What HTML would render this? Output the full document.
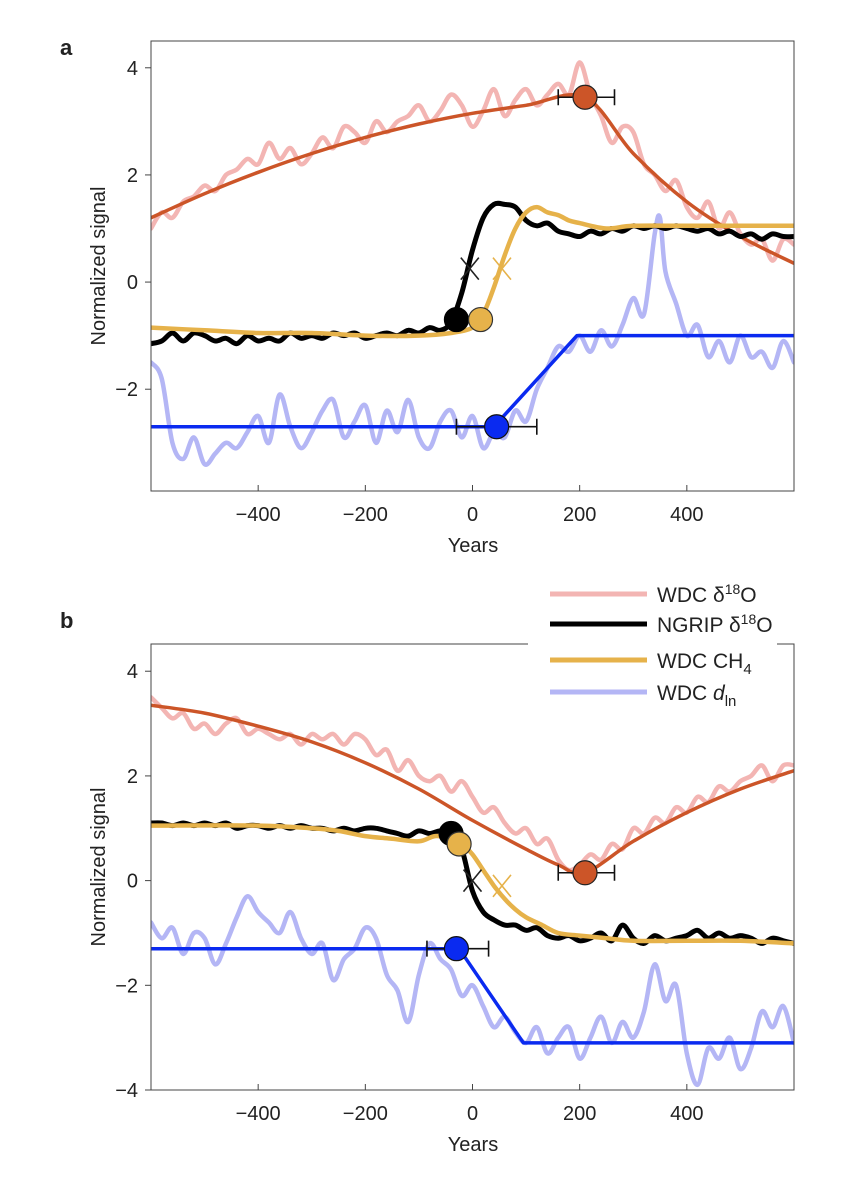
<!DOCTYPE html>
<html><head><meta charset="utf-8">
<style>
body{margin:0;background:#fff;width:852px;height:1174px;overflow:hidden;font-family:"Liberation Sans","DejaVu Sans",sans-serif;}
svg text{font-family:"Liberation Sans","DejaVu Sans",sans-serif;fill:#222;}
</style></head><body>
<svg id="chart" width="852" height="1174" viewBox="0 0 852 1174" xmlns="http://www.w3.org/2000/svg"></svg>
<script>
// ---- Panel a data ----
const aPinkYears=[-600,-580,-560,-540,-520,-500,-480,-460,-440,-420,-400,-380,-360,-340,-320,-300,-280,-260,-240,-220,-200,-180,-160,-140,-120,-100,-80,-60,-40,-20,0,20,40,60,80,100,120,140,160,180,200,220,240,260,280,300,320,340,360,380,400,420,440,460,480,500,520,540,560,580,600];
const aPinkVals=[1.0,1.3,1.2,1.5,1.6,1.8,1.7,2.0,2.1,2.3,2.2,2.6,2.3,2.5,2.2,2.4,2.7,2.5,2.9,2.8,2.6,3.0,2.8,3.0,3.1,3.3,3.0,3.2,3.5,3.3,2.9,3.2,3.6,3.1,3.4,3.6,3.3,3.5,3.7,3.5,4.1,3.5,3.1,2.6,2.9,2.8,2.2,2.0,1.7,1.9,1.4,1.2,1.5,1.0,1.3,0.9,0.7,0.8,0.4,0.8,0.7];
const aFitYears=[-600,-500,-400,-300,-200,-100,0,100,210,300,400,500,600];
const aFitVals=[1.2,1.65,2.05,2.4,2.7,2.95,3.15,3.3,3.45,2.4,1.5,0.85,0.35];
const aBlackYears=[-600,-580,-560,-540,-520,-500,-480,-460,-440,-420,-400,-380,-360,-340,-320,-300,-280,-260,-240,-220,-200,-180,-160,-140,-120,-100,-80,-60,-40,-20,0,20,40,60,80,100,120,140,160,180,200,220,240,260,280,300,320,340,360,380,400,420,440,460,480,500,520,540,560,580,600];
const aBlackVals=[-1.15,-1.1,-0.95,-1.1,-0.95,-1.0,-1.1,-1.05,-1.15,-1.0,-1.1,-1.05,-1.1,-0.95,-1.05,-1.0,-1.05,-0.95,-1.0,-0.95,-1.05,-1.0,-0.95,-1.0,-0.9,-0.95,-0.85,-0.9,-0.75,-0.2,0.6,1.2,1.45,1.45,1.4,1.15,1.05,1.1,0.95,0.9,0.85,0.95,0.9,1.0,0.95,1.05,1.0,1.05,1.0,1.05,1.0,0.95,1.0,0.9,0.95,0.85,0.9,0.8,0.9,0.85,0.85];
const aCH4Years=[-600,-500,-400,-300,-200,-100,-40,0,20,40,60,80,100,120,140,160,180,200,250,300,400,500,600];
const aCH4Vals=[-0.85,-0.9,-0.95,-0.95,-1.0,-1.0,-0.95,-0.85,-0.6,-0.1,0.5,1.0,1.3,1.4,1.3,1.25,1.15,1.1,1.0,1.05,1.05,1.05,1.05];
const aDlnYears=[-600,-580,-560,-540,-520,-500,-480,-460,-440,-420,-400,-380,-360,-340,-320,-300,-280,-260,-240,-220,-200,-180,-160,-140,-120,-100,-80,-60,-40,-20,0,20,40,60,80,100,120,140,160,180,200,220,240,260,280,300,320,340,350,360,380,400,420,440,460,480,500,520,540,560,580,600];
const aDlnVals=[-1.5,-1.8,-3.0,-3.3,-2.9,-3.4,-3.2,-3.0,-3.1,-2.8,-2.5,-3.0,-2.1,-2.7,-3.1,-2.8,-2.4,-2.2,-2.9,-2.6,-2.3,-3.0,-2.4,-2.8,-2.2,-2.9,-3.1,-2.6,-2.4,-2.9,-2.5,-3.1,-2.8,-2.9,-2.4,-2.6,-2.0,-1.6,-1.2,-1.3,-1.0,-1.3,-0.9,-1.2,-0.8,-0.3,-0.6,0.9,1.2,0.2,-0.4,-1.0,-0.8,-1.4,-1.1,-1.5,-1.0,-1.4,-1.3,-1.6,-1.1,-1.5];
const aRampYears=[-600,40,195,600];
const aRampVals=[-2.7,-2.7,-1.0,-1.0];
// ---- Panel b data ----
const bPinkYears=aPinkYears;
const bPinkVals=[3.5,3.3,3.1,3.2,2.9,3.0,2.8,3.0,3.1,2.8,2.9,2.8,2.7,2.8,2.6,2.8,2.7,2.8,2.6,2.8,2.7,2.4,2.5,2.1,2.3,2.0,1.9,2.0,1.7,1.9,1.6,1.3,1.4,1.1,0.9,1.0,0.7,0.8,0.4,0.2,0.3,0.5,0.4,0.7,0.6,1.0,0.9,1.2,1.1,1.4,1.3,1.6,1.5,1.8,1.7,1.9,2.0,2.2,1.9,2.2,2.2];
const bFitYears=[-600,-500,-400,-300,-200,-100,0,100,160,210,300,400,500,600];
const bFitVals=[3.35,3.2,2.95,2.65,2.25,1.75,1.15,0.6,0.3,0.15,0.75,1.3,1.75,2.1];
const bBlackYears=aBlackYears;
const bBlackVals=[1.1,1.1,1.05,1.1,1.05,1.1,1.05,1.1,1.0,1.05,1.05,1.0,1.05,1.0,1.05,1.0,1.0,0.95,1.0,0.95,1.0,1.0,0.95,0.9,0.85,0.95,0.9,0.95,0.9,0.6,-0.2,-0.6,-0.75,-0.85,-0.85,-0.95,-0.9,-1.05,-1.1,-1.05,-1.15,-1.1,-1.0,-1.15,-0.85,-1.1,-1.2,-1.05,-1.15,-1.1,-1.05,-0.95,-1.1,-1.0,-1.1,-1.05,-1.1,-1.2,-1.1,-1.15,-1.2];
const bCH4Years=[-600,-400,-300,-250,-200,-150,-100,-70,-40,-20,0,20,40,60,80,100,130,160,200,250,300,400,500,600];
const bCH4Vals=[1.05,1.05,1.0,0.95,0.85,0.8,0.75,0.85,0.8,0.7,0.5,0.2,-0.1,-0.35,-0.55,-0.7,-0.85,-1.0,-1.05,-1.1,-1.15,-1.15,-1.15,-1.2];
const bDlnYears=aBlackYears;
const bDlnVals=[-0.8,-1.1,-0.9,-1.4,-1.0,-1.1,-1.6,-1.2,-0.7,-0.3,-0.6,-0.8,-1.0,-0.6,-1.1,-1.4,-1.2,-1.9,-1.5,-1.3,-0.9,-1.1,-1.8,-2.1,-2.7,-1.8,-1.2,-1.5,-1.7,-2.2,-2.0,-2.4,-2.8,-2.6,-2.9,-3.1,-2.8,-3.3,-3.0,-2.8,-3.4,-3.0,-2.6,-3.1,-2.7,-3.0,-2.5,-1.6,-2.3,-2.0,-3.3,-3.9,-3.2,-3.4,-3.0,-3.6,-3.2,-2.5,-2.8,-2.4,-3.1];
const bRampYears=[-600,-25,95,600];
const bRampVals=[-1.3,-1.3,-3.1,-3.1];
// markers
const aCircleYears=[-30,15,210,45];const aCircleVals=[-0.7,-0.7,3.45,-2.7];
const bCircleYears=[-40,-25,210,-30];const bCircleVals=[0.9,0.7,0.15,-1.3];
const aCrossYears=[-5,55];const aCrossVals=[0.25,0.25];
const bCrossYears=[0,55];const bCrossVals=[0,-0.1];
const aErrLo=[160,-30];const aErrHi=[265,120];
const bErrLo=[160,-85];const bErrHi=[265,30];
const xTicks=[-400,-200,0,200,400];
const aYTicks=[-2,0,2,4];
const bYTicks=[-4,-2,0,2,4];

const NS="http://www.w3.org/2000/svg";
const svg=document.getElementById('chart');
function mk(tag,attrs,parent){const e=document.createElementNS(NS,tag);for(const k in attrs)e.setAttribute(k,attrs[k]);(parent||svg).appendChild(e);return e;}
function smooth(pts){let d='M'+pts[0][0]+','+pts[0][1];for(let i=0;i<pts.length-1;i++){const p0=pts[Math.max(i-1,0)],p1=pts[i],p2=pts[i+1],p3=pts[Math.min(i+2,pts.length-1)];const c1=[p1[0]+(p2[0]-p0[0])/6,p1[1]+(p2[1]-p0[1])/6],c2=[p2[0]-(p3[0]-p1[0])/6,p2[1]-(p3[1]-p1[1])/6];d+=' C'+c1[0].toFixed(1)+','+c1[1].toFixed(1)+' '+c2[0].toFixed(1)+','+c2[1].toFixed(1)+' '+p2[0].toFixed(1)+','+p2[1].toFixed(1);}return d;}

function panel(id,top,bottom,yMin,yMax,yTicks,S,letter,letterY){
  const L=151,R=794;
  const X=v=>L+(v+600)/1200*(R-L);
  const Y=v=>bottom-(v-yMin)/(yMax-yMin)*(bottom-top);
  const g=mk('g',{});
  
  
  const cp=mk('clipPath',{id:'clip'+id},g);mk('rect',{x:L,y:top,width:R-L,height:bottom-top},cp);
  const lines=mk('g',{'clip-path':'url(#clip'+id+')'},g);
  function series(yrs,vals,color,w,name,sm){
    const pts=yrs.map((y,i)=>[X(y),Y(vals[i])]);
    const p=mk('path',{d:sm?smooth(pts):'M'+pts.map(q=>q[0].toFixed(1)+','+q[1].toFixed(1)).join(' L'),fill:'none',stroke:color,'stroke-width':w,'stroke-linejoin':'round','stroke-linecap':'round'},lines);
    
    
  }
  series(S.pinkY,S.pinkV,'#f3b5b3',4.5,'wdc-d18o-line',true);
  series(S.dlnY,S.dlnV,'#b4b6f5',4.5,'wdc-dln-line',true);
  series(S.fitY,S.fitV,'#cc5528',3.5,'wdc-d18o-fit',true);
  series(S.blkY,S.blkV,'#000',5,'ngrip-d18o-line',true);
  series(S.ch4Y,S.ch4V,'#e6b24a',4.5,'wdc-ch4-line',true);
  series(S.rampY,S.rampV,'#0a2af0',3.5,'wdc-dln-ramp',false);
  const errY=[S.circV[2],S.circV[3]];
  for(let i=0;i<2;i++){const yy=Y(errY[i]);
    const e=mk('path',{d:`M${X(S.eLo[i])},${yy}H${X(S.eHi[i])}M${X(S.eLo[i])},${yy-8}V${yy+8}M${X(S.eHi[i])},${yy-8}V${yy+8}`,stroke:'#111','stroke-width':1.6,fill:'none'},g);
    
    }
  const crossCol=['#222','#e6b24a'];
  for(let i=0;i<2;i++){const cx=X(S.crY[i]),cy=Y(S.crV[i]);
    const c=mk('path',{d:`M${cx-9},${cy-11}L${cx+9},${cy+11}M${cx+9},${cy-11}L${cx-9},${cy+11}`,stroke:crossCol[i],'stroke-width':1.6},g);
    
    }
  const cc=['#000','#e6b24a','#cc5528','#0a2af0'];const cs=['#000','#333','#222','#111'];
  for(let i=0;i<4;i++){const c=mk('circle',{cx:X(S.circY[i]),cy:Y(S.circV[i]),r:12,fill:cc[i],stroke:cs[i],'stroke-width':1.2},g);
    
    }
  const fr=mk('path',{d:id==='b'?`M528,${top}H${L}V${bottom}H${R}V${top}H777`:`M${L},${top}H${R}V${bottom}H${L}Z`,fill:'none',stroke:'#444','stroke-width':1},g);
  
  
  xTicks.forEach(t=>{mk('line',{x1:X(t),x2:X(t),y1:bottom,y2:bottom-6,stroke:'#444'},g);
    const tx=mk('text',{x:X(t),y:bottom+30,'text-anchor':'middle','font-size':20},g);tx.textContent=(t<0?'\u2212'+(-t):t);
    
    });
  yTicks.forEach(t=>{mk('line',{x1:L-6,x2:L,y1:Y(t),y2:Y(t),stroke:'#444'},g);
    const tx=mk('text',{x:L-13,y:Y(t)+7,'text-anchor':'end','font-size':20},g);tx.textContent=(t<0?'\u2212'+(-t):t);
    
    });
  const xl=mk('text',{x:473,y:bottom+61,'text-anchor':'middle','font-size':20},g);xl.textContent='Years';
  
  
  const my=(top+bottom)/2;
  const yl=mk('text',{x:105,y:my,'text-anchor':'middle','font-size':20,transform:`rotate(-90 105 ${my})`},g);yl.textContent='Normalized signal';
  
  
  const lt=mk('text',{x:60,y:letterY,'font-size':22,'font-weight':'bold'},g);lt.textContent=letter;
  
  
}
panel('a',41,491,-3.9,4.5,aYTicks,{pinkY:aPinkYears,pinkV:aPinkVals,fitY:aFitYears,fitV:aFitVals,blkY:aBlackYears,blkV:aBlackVals,ch4Y:aCH4Years,ch4V:aCH4Vals,dlnY:aDlnYears,dlnV:aDlnVals,rampY:aRampYears,rampV:aRampVals,circY:aCircleYears,circV:aCircleVals,crY:aCrossYears,crV:aCrossVals,eLo:aErrLo,eHi:aErrHi},'a',55);
panel('b',644,1090,-4,4.52,bYTicks,{pinkY:bPinkYears,pinkV:bPinkVals,fitY:bFitYears,fitV:bFitVals,blkY:bBlackYears,blkV:bBlackVals,ch4Y:bCH4Years,ch4V:bCH4Vals,dlnY:bDlnYears,dlnV:bDlnVals,rampY:bRampYears,rampV:bRampVals,circY:bCircleYears,circV:bCircleVals,crY:bCrossYears,crV:bCrossVals,eLo:bErrLo,eHi:bErrHi},'b',628);
const leg=mk('g',{});


const legColors=['#f3b5b3','#000','#e6b24a','#b4b6f5'];
const legY=[594,624,660,692];
legColors.forEach((col,i)=>{
  const ln=mk('line',{x1:550,x2:647,y1:legY[i],y2:legY[i],stroke:col,'stroke-width':5},leg);
  
  
  const t=mk('text',{x:657,y:legY[i]+8,'font-size':21},leg);
  
  
  if(i===0){t.innerHTML='WDC δ<tspan dy="-8" font-size="14">18</tspan><tspan dy="8">O</tspan>';}
  else if(i===1){t.innerHTML='NGRIP δ<tspan dy="-8" font-size="14">18</tspan><tspan dy="8">O</tspan>';}
  else if(i===2){t.innerHTML='WDC CH<tspan dy="6" font-size="15">4</tspan>';}
  else{t.innerHTML='WDC <tspan font-style="italic">d</tspan><tspan dy="6" font-size="15">ln</tspan>';}
});
</script>
</body></html>
